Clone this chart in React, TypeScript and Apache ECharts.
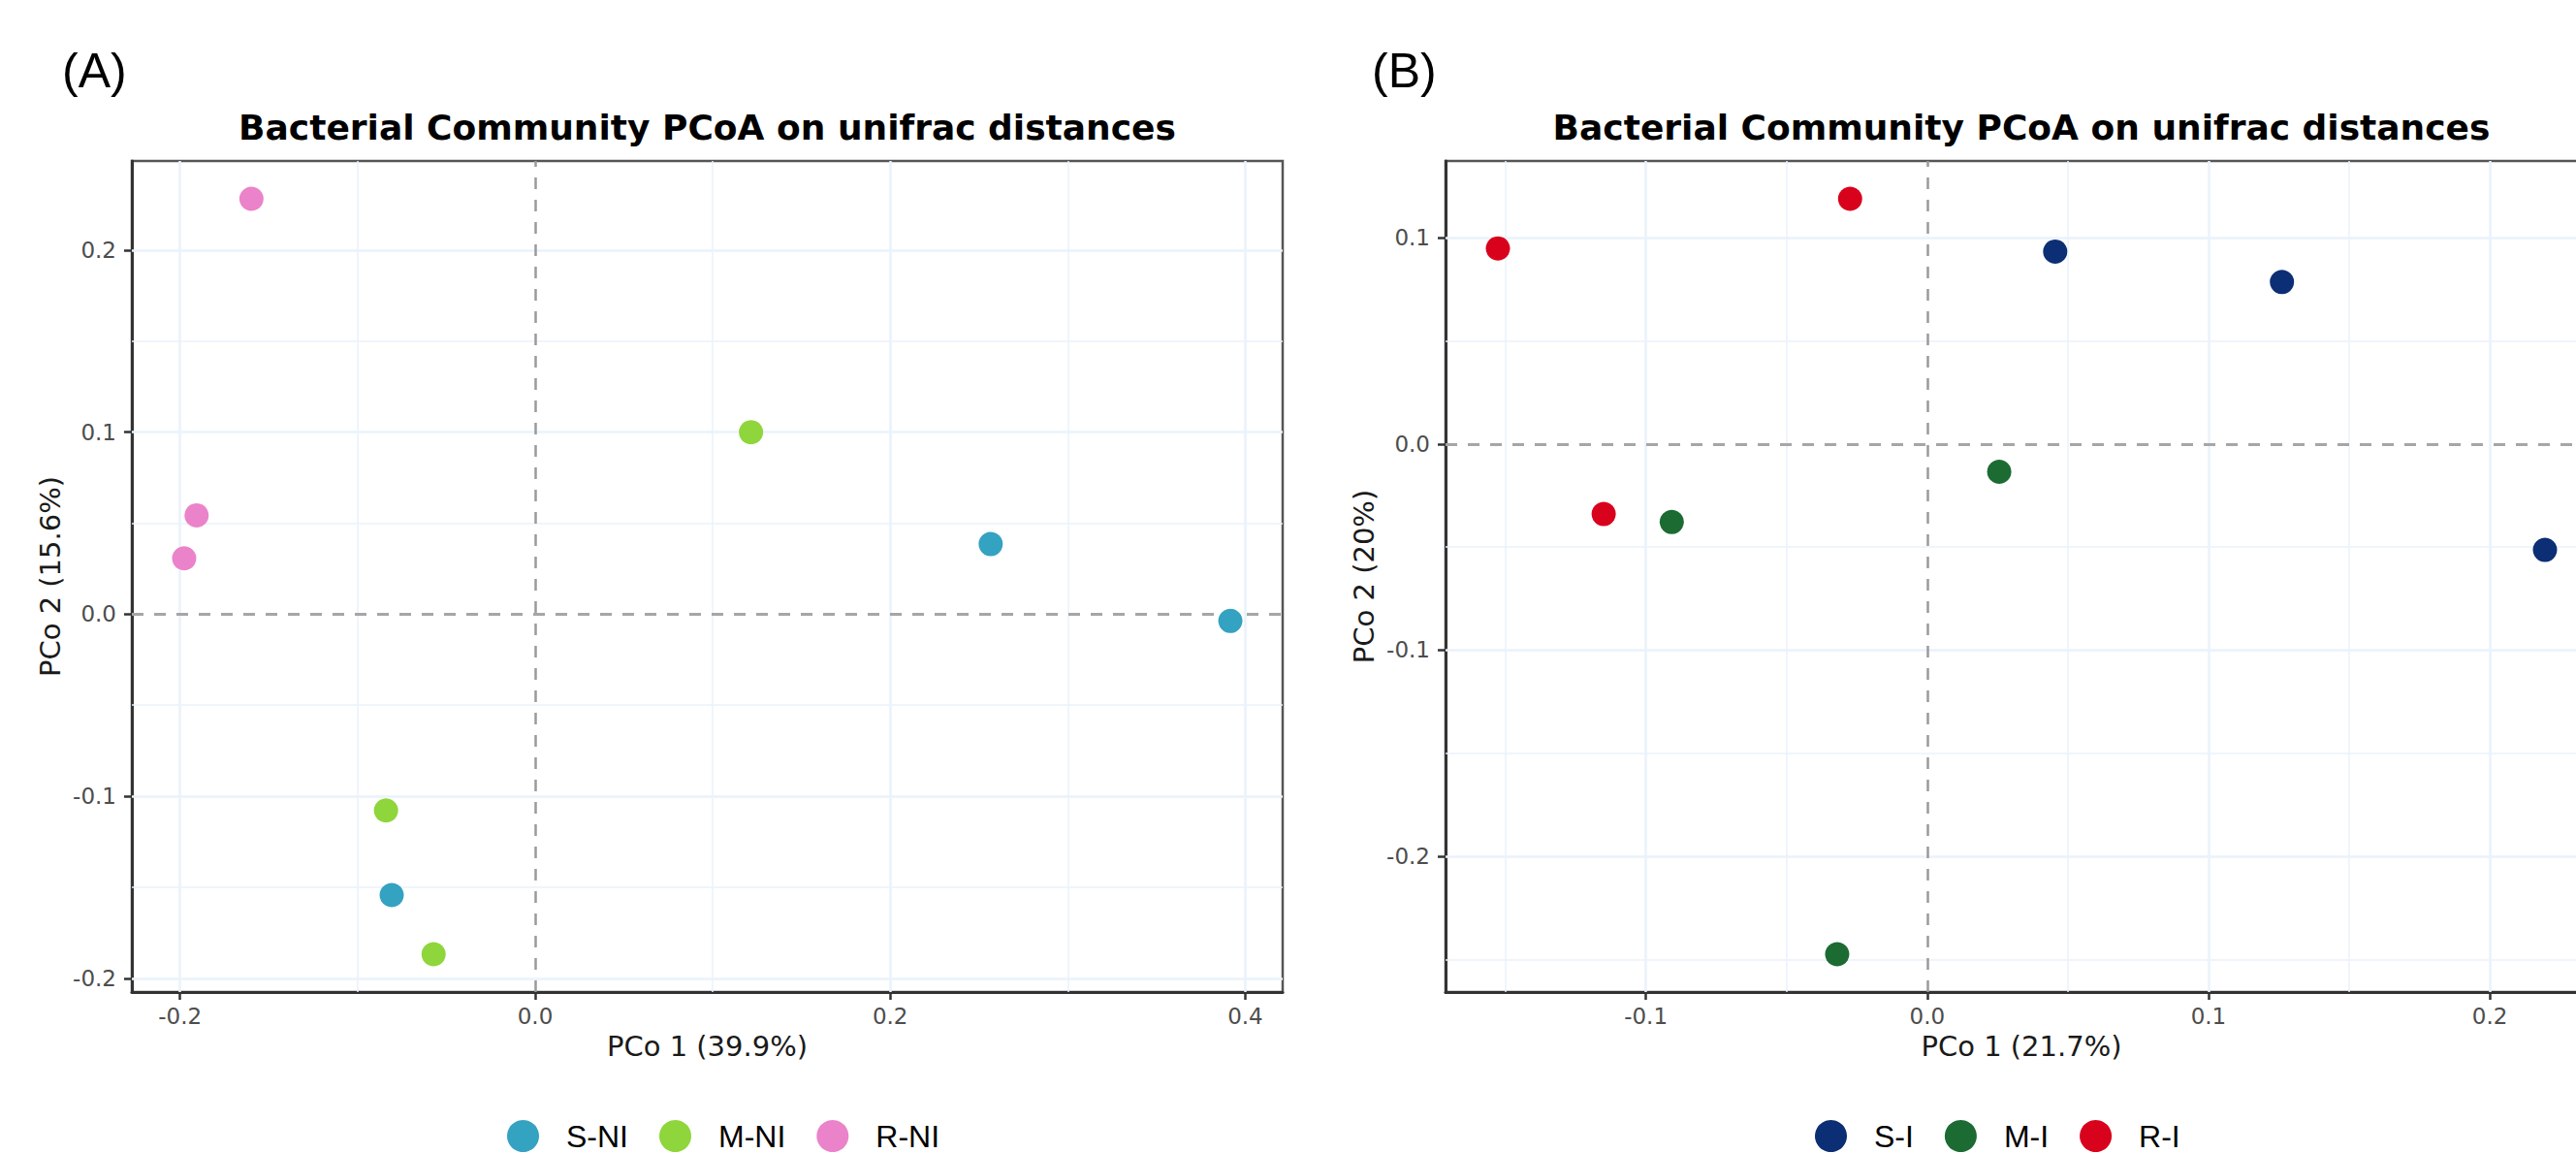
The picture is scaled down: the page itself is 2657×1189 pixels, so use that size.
import React, { useEffect, useRef } from "react";
import * as echarts from "echarts";

// ---------- data ----------
const GROUPS_A = ["S-NI", "M-NI", "R-NI"];
const GROUPS_B = ["S-I", "M-I", "R-I"];

const S_NI = [[0.2566, 0.0385], [0.3916, -0.0037], [-0.0808, -0.1543]];
const M_NI = [[0.1216, 0.1], [-0.084, -0.1078], [-0.0572, -0.1868]];
const R_NI = [[-0.1598, 0.2282], [-0.1907, 0.0543], [-0.1977, 0.0307]];

const S_I = [[0.0455, 0.0933], [0.1261, 0.0785], [0.2196, -0.0514]];
const M_I = [[0.0256, -0.0135], [-0.0908, -0.0379], [-0.032, -0.2475]];
const R_I = [[-0.1526, 0.0948], [-0.0274, 0.1189], [-0.115, -0.034]];

const COLORS_A = ["#34A2C1", "#8ED63B", "#EB83CA"];
const COLORS_B = ["#0C2E74", "#1B6B33", "#D9021C"];

const X_MAJOR_A = [-0.2, 0, 0.2, 0.4];
const X_MINOR_A = [-0.1, 0.1, 0.3];
const Y_MAJOR_A = [-0.2, -0.1, 0, 0.1, 0.2];
const Y_MINOR_A = [-0.15, -0.05, 0.05, 0.15];

const X_MAJOR_B = [-0.1, 0, 0.1, 0.2];
const X_MINOR_B = [-0.15, -0.05, 0.05, 0.15];
const Y_MAJOR_B = [-0.2, -0.1, 0, 0.1];
const Y_MINOR_B = [-0.25, -0.15, -0.05, 0.05];

const TITLE = "Bacterial Community PCoA on unifrac distances";
const X_NAME_A = "PCo 1 (39.9%)";
const Y_NAME_A = "PCo 2 (15.6%)";
const X_NAME_B = "PCo 1 (21.7%)";
const Y_NAME_B = "PCo 2 (20%)";

// ---------- helpers ----------
function expand(vals: number[]): [number, number] {
  const mn = Math.min(...vals);
  const mx = Math.max(...vals);
  const r = mx - mn;
  return [mn - 0.05 * r, mx + 0.05 * r];
}

const GRID_COLOR = "#EAF2FB";
const AXIS_COLOR = "#333333";
const TICK_TEXT = "#4D4D4D";

function gridLines(xMaj: number[], xMin: number[], yMaj: number[], yMin: number[]) {
  const items: any[] = [];
  xMin.forEach((v) => items.push({ xAxis: v, lineStyle: { color: GRID_COLOR, width: 1.5, type: "solid" } }));
  yMin.forEach((v) => items.push({ yAxis: v, lineStyle: { color: GRID_COLOR, width: 1.5, type: "solid" } }));
  xMaj.forEach((v) => { if (v !== 0) items.push({ xAxis: v, lineStyle: { color: GRID_COLOR, width: 2.5, type: "solid" } }); });
  yMaj.forEach((v) => { if (v !== 0) items.push({ yAxis: v, lineStyle: { color: GRID_COLOR, width: 2.5, type: "solid" } }); });
  items.push({ xAxis: 0, lineStyle: { color: "#9A9A9A", width: 2.5, type: [12, 11] } });
  items.push({ yAxis: 0, lineStyle: { color: "#A6A6A6", width: 3, type: [12, 11] } });
  return items;
}

function xAxisDef(gridIndex: number, range: [number, number], majors: number[], name: string) {
  return {
    type: "value",
    gridIndex,
    min: range[0],
    max: range[1],
    name,
    nameLocation: "middle",
    nameGap: 41,
    nameTextStyle: { fontFamily: "DejaVu Sans", fontSize: 29, color: "#1A1A1A" },
    axisLine: { show: true, onZero: false, lineStyle: { color: AXIS_COLOR, width: 3 } },
    axisTick: { show: true, length: 8, customValues: majors, lineStyle: { color: AXIS_COLOR, width: 2.5 } },
    axisLabel: {
      customValues: majors,
      formatter: (v: number) => v.toFixed(1),
      fontFamily: "DejaVu Sans",
      fontSize: 23,
      color: TICK_TEXT,
      margin: 13,
    },
    splitLine: { show: false },
  };
}

function yAxisDef(gridIndex: number, range: [number, number], majors: number[], name: string) {
  return {
    type: "value",
    gridIndex,
    min: range[0],
    max: range[1],
    name,
    nameLocation: "middle",
    nameGap: 70,
    nameTextStyle: { fontFamily: "DejaVu Sans", fontSize: 29, color: "#1A1A1A" },
    axisLine: { show: true, onZero: false, lineStyle: { color: AXIS_COLOR, width: 3 } },
    axisTick: { show: true, length: 8, customValues: majors, lineStyle: { color: AXIS_COLOR, width: 2.5 } },
    axisLabel: {
      customValues: majors,
      formatter: (v: number) => v.toFixed(1),
      fontFamily: "DejaVu Sans",
      fontSize: 23,
      color: TICK_TEXT,
      margin: 16,
    },
    splitLine: { show: false },
  };
}

function legendDef(names: string[], left: number) {
  return {
    data: names,
    orient: "horizontal",
    left,
    top: 1155,
    padding: 0,
    icon: "circle",
    itemWidth: 33,
    itemHeight: 33,
    itemGap: 32,
    selectedMode: false,
    textStyle: {
      fontFamily: "Liberation Sans",
      fontSize: 32,
      lineHeight: 30,
      color: "#000000",
      padding: [0, 0, 0, 23],
    },
  };
}

export default function App() {
  const ref = useRef<HTMLDivElement>(null);

  useEffect(() => {
    if (!ref.current) return;
    const chart = echarts.init(ref.current, undefined, { renderer: "svg" });

    const allA = [S_NI, M_NI, R_NI];
    const allB = [S_I, M_I, R_I];
    const xRangeA = expand(allA.flat().map((p) => p[0]));
    const yRangeA = expand(allA.flat().map((p) => p[1]));
    const xRangeB = expand(allB.flat().map((p) => p[0]));
    const yRangeB = expand(allB.flat().map((p) => p[1]));

    const mkSeries = (name: string, data: number[][], color: string, idx: number, marks: any[] | null) => {
      const s: any = {
        type: "scatter",
        name,
        xAxisIndex: idx,
        yAxisIndex: idx,
        data,
        symbol: "circle",
        symbolSize: 25,
        itemStyle: { color, opacity: 1 },
        z: 3,
        emphasis: { disabled: true },
      };
      if (marks) {
        s.markLine = {
          silent: true,
          z: 1,
          symbol: ["none", "none"],
          label: { show: false },
          animation: false,
          data: marks,
        };
      }
      return s;
    };

    const option: any = {
      animation: false,
      backgroundColor: "#ffffff",
      grid: [
        { left: 136, top: 166, width: 1187, height: 857, show: true, borderColor: "#555555", borderWidth: 2.5, backgroundColor: "#ffffff" },
        { left: 1491, top: 166, width: 1188, height: 857, show: true, borderColor: "#555555", borderWidth: 2.5, backgroundColor: "#ffffff" },
      ],
      xAxis: [xAxisDef(0, xRangeA, X_MAJOR_A, X_NAME_A), xAxisDef(1, xRangeB, X_MAJOR_B, X_NAME_B)],
      yAxis: [yAxisDef(0, yRangeA, Y_MAJOR_A, Y_NAME_A), yAxisDef(1, yRangeB, Y_MAJOR_B, Y_NAME_B)],
      legend: [legendDef(GROUPS_A, 523), legendDef(GROUPS_B, 1872)],
      series: [
        mkSeries(GROUPS_A[0], S_NI, COLORS_A[0], 0, gridLines(X_MAJOR_A, X_MINOR_A, Y_MAJOR_A, Y_MINOR_A)),
        mkSeries(GROUPS_A[1], M_NI, COLORS_A[1], 0, null),
        mkSeries(GROUPS_A[2], R_NI, COLORS_A[2], 0, null),
        mkSeries(GROUPS_B[0], S_I, COLORS_B[0], 1, gridLines(X_MAJOR_B, X_MINOR_B, Y_MAJOR_B, Y_MINOR_B)),
        mkSeries(GROUPS_B[1], M_I, COLORS_B[1], 1, null),
        mkSeries(GROUPS_B[2], R_I, COLORS_B[2], 1, null),
      ],
      graphic: [
        { type: "text", x: 64, y: 73, style: { text: "(A)", fontFamily: "Liberation Sans", fontSize: 50, fill: "#000", align: "left", verticalAlign: "middle" } },
        { type: "text", x: 1415, y: 73, style: { text: "(B)", fontFamily: "Liberation Sans", fontSize: 50, fill: "#000", align: "left", verticalAlign: "middle" } },
        { type: "text", x: 729.5, y: 131, style: { text: TITLE, fontFamily: "DejaVu Sans", fontWeight: "bold", fontSize: 36, fill: "#000", align: "center", verticalAlign: "middle" } },
        { type: "text", x: 2085, y: 131, style: { text: TITLE, fontFamily: "DejaVu Sans", fontWeight: "bold", fontSize: 36, fill: "#000", align: "center", verticalAlign: "middle" } },
      ],
    };

    chart.setOption(option);
    return () => chart.dispose();
  }, []);

  return (
    <div style={{ position: "fixed", left: 0, top: 0, width: "100vw", height: "100vh", overflow: "hidden", background: "#fff" }}>
      <div ref={ref} style={{ width: 2700, height: 1189 }} />
    </div>
  );
}
